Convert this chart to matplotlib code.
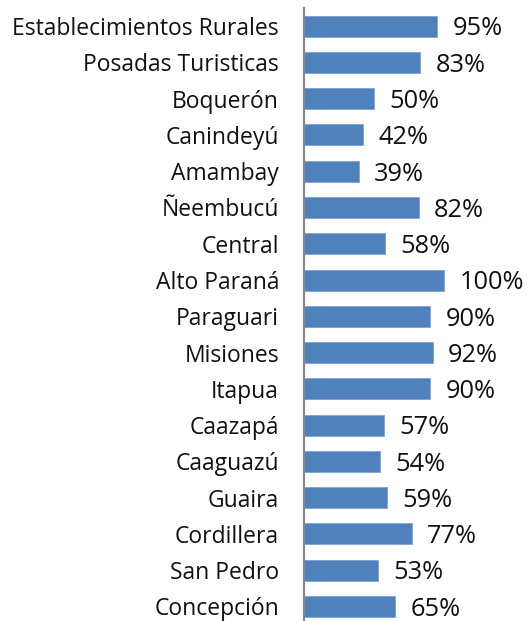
import matplotlib
matplotlib.use("Agg")
import matplotlib.pyplot as plt

categories = ["Establecimientos Rurales", "Posadas Turisticas", "Boquerón", "Canindeyú",
              "Amambay", "Ñeembucú", "Central", "Alto Paraná", "Paraguari", "Misiones",
              "Itapua", "Caazapá", "Caaguazú", "Guaira", "Cordillera", "San Pedro", "Concepción"]
values = [95, 83, 50, 42, 39, 82, 58, 100, 90, 92, 90, 57, 54, 59, 77, 53, 65]

plt.rcParams['font.family'] = ['Open Sans', 'DejaVu Sans']

W, H = 529, 621
fig = plt.figure(figsize=(W/100, H/100), dpi=100)
ax = fig.add_axes([304/W, 0, 221/W, (H-8)/H])

pos = list(range(len(categories)))
ax.barh(pos, values, height=0.58, color='#4F81BD', edgecolor='#7FA3D1', linewidth=0.6)
ax.set_xlim(0, 221/140*100)
ax.set_ylim(16.4, -0.5)

for p, v in zip(pos, values):
    ax.annotate(f"{v}%", xy=(v, p), xytext=(11, -2), textcoords='offset points',
                va='center', ha='left', fontsize=18.3, color='#111111')

ax.set_yticks(pos)
ax.set_yticklabels(categories, fontsize=16.5, color='#111111')
ax.tick_params(axis='y', length=0, pad=18)
ax.set_xticks([])
for s in ['top', 'right', 'bottom']:
    ax.spines[s].set_visible(False)
ax.spines['left'].set_color('#868686')
ax.spines['left'].set_linewidth(1.5)

fig.savefig("out.png", dpi=100)
